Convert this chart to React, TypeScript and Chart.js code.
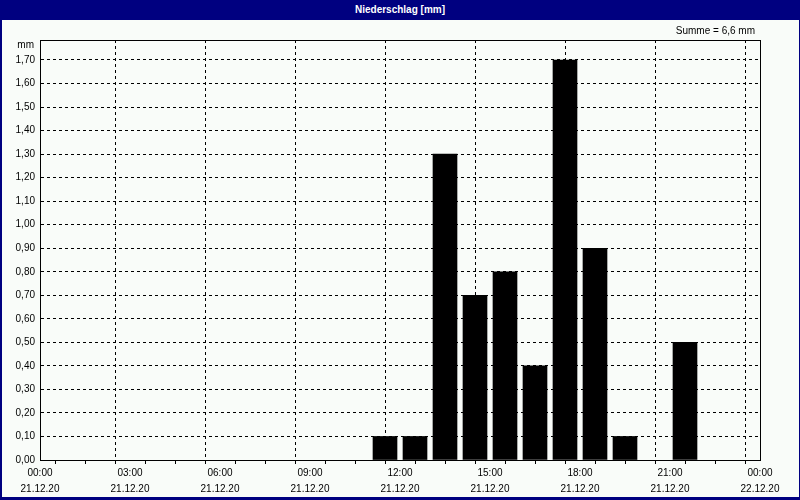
import React, { useEffect, useRef } from 'react';
import { Chart, registerables } from 'chart.js';

Chart.register(...registerables);

const chartTitle = 'Niederschlag [mm]';
const unitLabel = 'mm';
const sumLabel = 'Summe = 6,6 mm';

// hourly precipitation: start hour of each interval and value in mm
const hourStarts = [11, 12, 13, 14, 15, 16, 17, 18, 19, 20, 21];
const precipitation = [0.1, 0.1, 1.3, 0.7, 0.8, 0.4, 1.7, 0.9, 0.1, 0, 0.5];

const yTickValues = [0, 0.1, 0.2, 0.3, 0.4, 0.5, 0.6, 0.7, 0.8, 0.9, 1.0, 1.1, 1.2, 1.3, 1.4, 1.5, 1.6, 1.7];
const yMax = 1.785;

const xTickHours = [0, 3, 6, 9, 12, 15, 18, 21, 24];
const xTickTimes = ['00:00', '03:00', '06:00', '09:00', '12:00', '15:00', '18:00', '21:00', '00:00'];
const xTickDates = ['21.12.20', '21.12.20', '21.12.20', '21.12.20', '21.12.20', '21.12.20', '21.12.20', '21.12.20', '22.12.20'];

const FONT = '"Liberation Sans", Arial, sans-serif';
const BG = '#F9FCF9';
const NAVY = '#000080';

const framePlugin = {
  id: 'frame',
  afterDraw(chart: any) {
    const { ctx, chartArea: a } = chart;
    ctx.save();
    ctx.strokeStyle = '#000';
    ctx.lineWidth = 1;
    ctx.setLineDash([]);
    const l = Math.round(a.left) + 0.5;
    const t = Math.round(a.top) + 0.5;
    const r = Math.round(a.right) + 0.5;
    const b = Math.round(a.bottom) + 0.5;
    ctx.strokeRect(l, t, r - l, b - t);
    ctx.fillStyle = '#000';
    ctx.font = `10px ${FONT}`;
    ctx.textBaseline = 'middle';
    ctx.textAlign = 'right';
    ctx.fillText(unitLabel, a.left - 6, a.top + 5);
    ctx.fillText(sumLabel, a.right - 5, a.top - 9);
    ctx.restore();
  },
};

export default function App() {
  const canvasRef = useRef<HTMLCanvasElement | null>(null);

  useEffect(() => {
    const canvas = canvasRef.current;
    if (!canvas) return;
    const chart = new Chart(canvas, {
      type: 'bar',
      data: {
        datasets: [
          {
            data: hourStarts.map((h, i) => ({ x: h + 0.5, y: precipitation[i] })),
            backgroundColor: (ctx: any) => (ctx.raw && ctx.raw.y > 0 ? '#000' : 'rgba(0,0,0,0)'),
            borderWidth: 0,
            barThickness: 24,
          },
        ],
      },
      options: {
        animation: false,
        responsive: false,
        maintainAspectRatio: false,
        layout: { padding: { left: 0, right: 39, top: 20, bottom: 0 } },
        plugins: {
          legend: { display: false },
          title: { display: false },
          tooltip: { enabled: false },
        },
        scales: {
          x: {
            type: 'linear',
            min: 0,
            max: 24,
            offset: false,
            afterBuildTicks: (scale: any) => {
              const ticks = [];
              for (let h = 0; h <= 24; h++) ticks.push({ value: h });
              scale.ticks = ticks;
            },
            afterFit: (scale: any) => {
              scale.height = 37;
            },
            ticks: {
              autoSkip: false,
              maxRotation: 0,
              minRotation: 0,
              padding: 1,
              color: '#000',
              font: { family: FONT, size: 10, lineHeight: 1.6 },
              callback: (v: any) => {
                const idx = xTickHours.indexOf(Number(v));
                return idx >= 0 ? [xTickTimes[idx], xTickDates[idx]] : '';
              },
            },
            grid: {
              color: (ctx: any) => (ctx.tick && xTickHours.indexOf(ctx.tick.value) >= 0 ? '#000' : 'rgba(0,0,0,0)'),
              tickColor: '#000',
              tickLength: 4,
              tickBorderDash: [],
              lineWidth: 1,
            },
            border: { display: true, color: '#000', dash: [3, 3] },
          },
          y: {
            min: 0,
            max: yMax,
            afterBuildTicks: (scale: any) => {
              scale.ticks = yTickValues.map((v) => ({ value: v }));
            },
            afterFit: (scale: any) => {
              scale.width = 38;
            },
            ticks: {
              padding: 5,
              color: '#000',
              font: { family: FONT, size: 10 },
              callback: (v: any) => Number(v).toFixed(2).replace('.', ','),
            },
            grid: {
              color: '#000',
              drawTicks: false,
              lineWidth: 1,
            },
            border: { display: true, color: '#000', dash: [3, 3] },
          },
        },
      },
      plugins: [framePlugin],
    } as any);
    return () => chart.destroy();
  }, []);

  return (
    <div
      style={{
        position: 'absolute',
        left: 0,
        top: 0,
        width: 800,
        height: 500,
        background: NAVY,
        overflow: 'hidden',
      }}
    >
      <div
        style={{
          position: 'absolute',
          left: 0,
          top: 0,
          width: 800,
          height: 20,
          lineHeight: '20px',
          textAlign: 'center',
          color: '#fff',
          fontFamily: FONT,
          fontWeight: 'bold',
          fontSize: 10,
        }}
      >
        {chartTitle}
      </div>
      <div style={{ position: 'absolute', left: 2, top: 20, width: 797, height: 477, background: BG }}>
        <canvas ref={canvasRef} width={797} height={477} style={{ display: 'block', width: 797, height: 477 }} />
      </div>
    </div>
  );
}
